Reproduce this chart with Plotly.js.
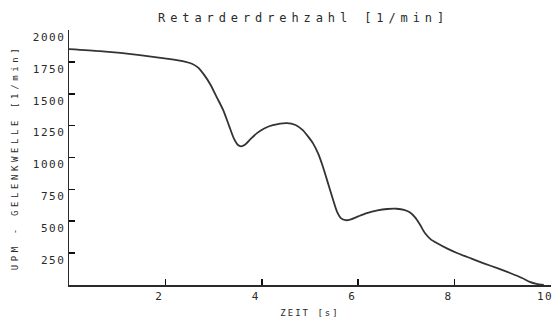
<!DOCTYPE html>
<html>
<head>
<meta charset="utf-8">
<script src="https://cdn.plot.ly/plotly-3.0.1.min.js"></script>
<style>
html,body{margin:0;padding:0;background:#fff;}
#chart{width:552px;height:321px;}
.gtitle{letter-spacing:4.9px;}
.g-xtitle text{letter-spacing:2px;}
.g-ytitle text{letter-spacing:3.6px;}
.xtick text,.ytick text{letter-spacing:1.5px;}
</style>
</head>
<body>
<div id="chart"></div>
<script>
// Time [s]
const zeit = [0, 0.64, 1.47, 2.10, 2.40, 2.55, 2.68, 2.80, 2.93, 3.07, 3.20, 3.32, 3.42, 3.50, 3.57, 3.65, 3.78, 3.90, 4.05, 4.23, 4.52, 4.70, 4.85, 4.97, 5.06, 5.17, 5.27, 5.38, 5.48, 5.56, 5.64, 5.74, 5.85, 6.00, 6.18, 6.40, 6.60, 6.80, 6.95, 7.07, 7.18, 7.28, 7.38, 7.50, 7.63, 7.85, 8.05, 8.35, 8.59, 8.90, 9.15, 9.40, 9.56, 9.70, 9.85];
// Retarder speed [1/min]
const drehzahl = [1850, 1834, 1803, 1771, 1752, 1735, 1705, 1650, 1575, 1470, 1371, 1250, 1150, 1100, 1088, 1100, 1150, 1191, 1228, 1254, 1270, 1255, 1215, 1160, 1113, 1030, 925, 790, 666, 575, 525, 508, 515, 538, 564, 585, 596, 598, 590, 570, 530, 475, 410, 360, 329, 285, 251, 207, 172, 130, 94, 55, 24, 8, 0];
const xTicks = [2, 4, 6, 8, 10];
const yTicks = [250, 500, 750, 1000, 1250, 1500, 1750, 2000];

const ink = '#2a2a2a';
const fontFam = '"DejaVu Sans Mono", monospace';

Plotly.newPlot('chart', [{
  x: zeit, y: drehzahl, type: 'scatter', mode: 'lines',
  line: {color: '#333', width: 1.8, shape: 'spline', smoothing: 0.6},
  hoverinfo: 'none'
}], {
  width: 552, height: 321,
  margin: {l: 69, r: 1, t: 30, b: 36},
  paper_bgcolor: '#fff', plot_bgcolor: '#fff',
  showlegend: false,
  title: {text: 'Retarderdrehzahl [1/min]', font: {family: fontFam, size: 12, color: ink}, x: 0.55, xanchor: 'center', y: 0.944, yanchor: 'middle'},
  xaxis: {
    range: [0, 10], tickvals: xTicks, ticktext: xTicks.map(String),
    ticks: 'inside', ticklen: 6, tickcolor: '#111', tickwidth: 1.6,
    showline: true, linecolor: ink, linewidth: 1.5, showgrid: false, zeroline: false,
    tickfont: {family: fontFam, size: 11, color: ink}, ticklabelshift: -6,
    ticklabeloverflow: 'allow',
    title: {text: 'ZEIT [s]', font: {family: fontFam, size: 9, color: ink}, standoff: 8}
  },
  yaxis: {
    range: [0, 2000], tickvals: yTicks, ticktext: yTicks.map(String),
    ticks: 'inside', ticklen: 6, tickcolor: '#111', tickwidth: 1.6,
    showline: true, linecolor: ink, linewidth: 1.5, showgrid: false, zeroline: false,
    tickfont: {family: fontFam, size: 11, color: ink}, ticklabelshift: 7,
    ticklabeloverflow: 'allow',
    title: {text: 'UPM - GELENKWELLE [1/min]', font: {family: fontFam, size: 9, color: ink}, standoff: 12}
  }
}, {staticPlot: true, displayModeBar: false});
</script>
</body>
</html>
